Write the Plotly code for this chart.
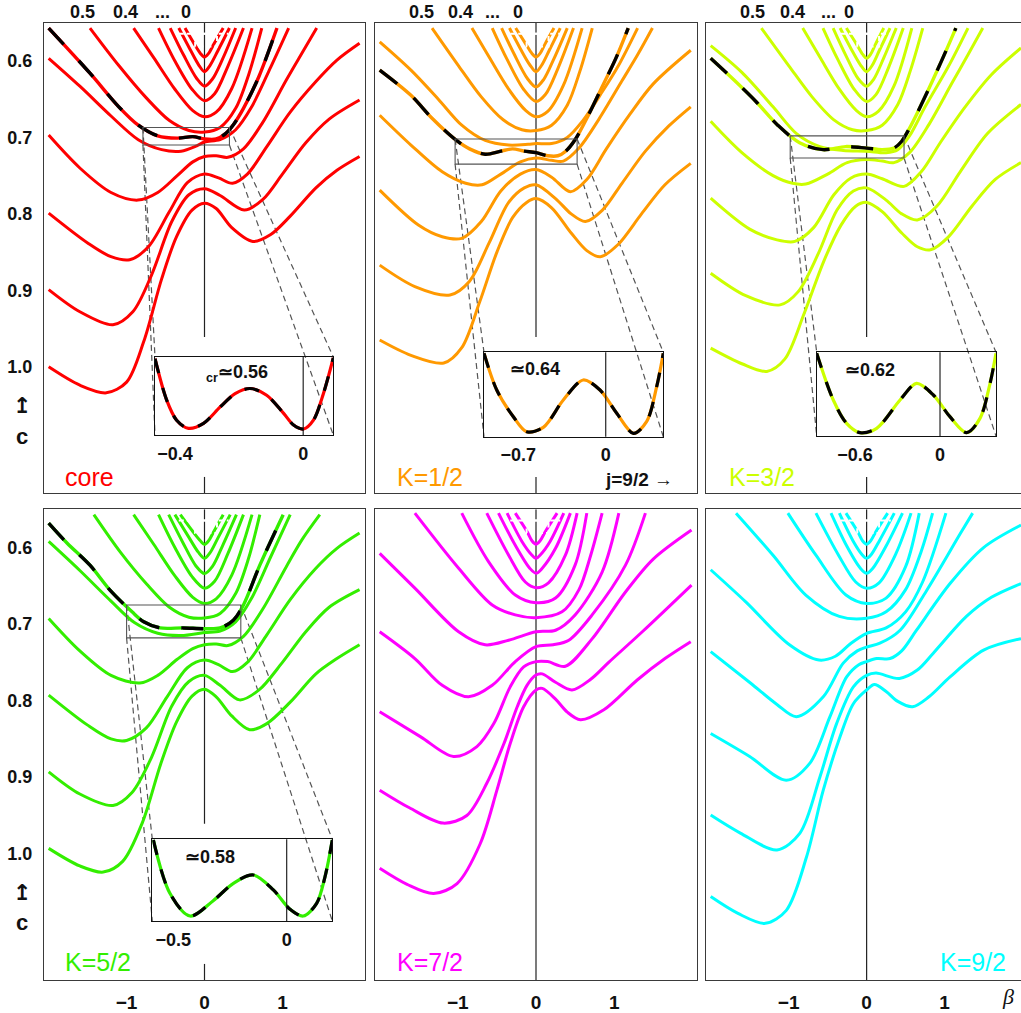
import plotly.graph_objects as go

W, H = 1021, 1013

# ---------------------------------------------------------------------------
# Curve samples (beta, c).  Each panel: six upper "U" curves, then five curves
# that enter from the left edge (shallowest first).  The critical curve is drawn
# dashed (black over colour) and zoomed in an inset.
# ---------------------------------------------------------------------------
core_curves = [
    [(-0.25, 0.557), (-0.13, 0.578), (-0.05, 0.5905), (0, 0.595), (0.05, 0.5905), (0.12, 0.578), (0.24, 0.557)],
    [(-0.33, 0.557), (-0.19, 0.584), (-0.07, 0.606), (0, 0.614), (0.07, 0.606), (0.17, 0.587), (0.32, 0.557)],
    [(-0.44, 0.557), (-0.27, 0.592), (-0.10, 0.623), (0, 0.633), (0.10, 0.624), (0.23, 0.598), (0.40, 0.557)],
    [(-0.59, 0.557), (-0.38, 0.600), (-0.16, 0.637), (0, 0.652), (0.13, 0.643), (0.30, 0.607), (0.50, 0.557)],
    [(-0.91, 0.557), (-0.65, 0.596), (-0.38, 0.637), (-0.15, 0.665), (0, 0.673), (0.15, 0.667), (0.35, 0.636), (0.61, 0.557)],
    [(-1.47, 0.557), (-1.10, 0.606), (-0.75, 0.648), (-0.45, 0.678), (-0.20, 0.691), (0, 0.693), (0.20, 0.687), (0.40, 0.662), (0.57, 0.617), (0.735, 0.557)],
    [(-2.0, 0.5965), (-1.6, 0.633), (-1.2, 0.672), (-0.85, 0.703), (-0.55, 0.716), (-0.30, 0.718), (-0.10, 0.711), (0, 0.706), (0.20, 0.703), (0.40, 0.690), (0.60, 0.661), (0.85, 0.608), (1.08, 0.557)],
    [(-2.0, 0.697), (-1.6, 0.740), (-1.2, 0.772), (-0.855, 0.782), (-0.60, 0.772), (-0.35, 0.750), (-0.15, 0.732), (0, 0.725), (0.15, 0.724), (0.30, 0.726), (0.50, 0.715), (0.75, 0.680), (1.05, 0.625), (1.25, 0.590), (1.44, 0.557)],
    [(-2.0, 0.799), (-1.5, 0.838), (-1.2, 0.856), (-0.96, 0.860), (-0.72, 0.843), (-0.45, 0.797), (-0.22, 0.759), (0, 0.748), (0.18, 0.753), (0.36, 0.760), (0.55, 0.748), (0.80, 0.712), (1.10, 0.667), (1.43, 0.627), (1.70, 0.599), (1.99, 0.577)],
    [(-2.0, 0.899), (-1.6, 0.928), (-1.175, 0.945), (-0.92, 0.928), (-0.68, 0.880), (-0.42, 0.810), (-0.20, 0.775), (0, 0.767), (0.20, 0.776), (0.51, 0.795), (0.75, 0.781), (1.0, 0.748), (1.3, 0.707), (1.6, 0.676), (1.99, 0.651)],
    [(-2.0, 1.000), (-1.6, 1.024), (-1.26, 1.034), (-1.0, 1.020), (-0.78, 0.967), (-0.55, 0.885), (-0.36, 0.830), (-0.16, 0.795), (0, 0.786), (0.15, 0.793), (0.35, 0.818), (0.62, 0.836), (0.85, 0.827), (1.1, 0.803), (1.43, 0.766), (1.7, 0.743), (1.99, 0.725)],
]
core_critical = [(-2.0, 0.557), (-1.47, 0.616), (-1.1, 0.660), (-0.85, 0.684), (-0.6, 0.698), (-0.35, 0.701), (-0.15, 0.699), (0, 0.702), (0.15, 0.702), (0.27, 0.695), (0.38, 0.682), (0.5, 0.662), (0.7, 0.620), (0.93, 0.557)]
core_inset = [(-0.4625, 0.979), (-0.426, 0.447), (-0.395, 0.19), (-0.358, 0.085), (-0.311, 0.15), (-0.259, 0.36), (-0.2125, 0.53), (-0.166, 0.596), (-0.114, 0.51), (-0.061, 0.277), (-0.030, 0.128), (0.001, 0.077), (0.032, 0.19), (0.063, 0.53), (0.094, 0.99)]

k12_curves = [
    [(-0.26, 0.557), (-0.13, 0.578), (-0.05, 0.5905), (0, 0.595), (0.05, 0.5905), (0.12, 0.577), (0.23, 0.557)],
    [(-0.34, 0.557), (-0.20, 0.584), (-0.08, 0.605), (0, 0.614), (0.07, 0.606), (0.17, 0.586), (0.31, 0.557)],
    [(-0.44, 0.557), (-0.28, 0.591), (-0.11, 0.623), (0, 0.634), (0.10, 0.624), (0.23, 0.597), (0.40, 0.557)],
    [(-0.56, 0.557), (-0.37, 0.598), (-0.16, 0.637), (0, 0.653), (0.12, 0.644), (0.28, 0.610), (0.48, 0.557)],
    [(-0.82, 0.557), (-0.60, 0.595), (-0.35, 0.637), (-0.13, 0.665), (0, 0.673), (0.15, 0.666), (0.35, 0.632), (0.59, 0.557)],
    [(-1.33, 0.557), (-1.0, 0.605), (-0.70, 0.647), (-0.42, 0.677), (-0.18, 0.690), (0, 0.691), (0.20, 0.684), (0.40, 0.658), (0.56, 0.614), (0.72, 0.557)],
    [(-2.0, 0.575), (-1.6, 0.612), (-1.25, 0.650), (-0.95, 0.684), (-0.65, 0.704), (-0.35, 0.710), (-0.10, 0.709), (0, 0.708), (0.20, 0.708), (0.40, 0.700), (0.60, 0.678), (0.85, 0.640), (1.05, 0.607), (1.30, 0.557)],
    [(-2.0, 0.671), (-1.6, 0.710), (-1.2, 0.745), (-0.9, 0.760), (-0.69, 0.762), (-0.45, 0.748), (-0.20, 0.732), (0, 0.727), (0.20, 0.730), (0.35, 0.731), (0.55, 0.714), (0.80, 0.677), (1.10, 0.626), (1.30, 0.592), (1.49, 0.557)],
    [(-2.0, 0.769), (-1.5, 0.815), (-1.2, 0.830), (-0.95, 0.832), (-0.70, 0.810), (-0.45, 0.770), (-0.20, 0.748), (0, 0.742), (0.20, 0.752), (0.44, 0.771), (0.65, 0.755), (0.90, 0.715), (1.2, 0.670), (1.5, 0.630), (1.98, 0.586)],
    [(-2.0, 0.867), (-1.55, 0.895), (-1.10, 0.906), (-0.85, 0.888), (-0.60, 0.838), (-0.35, 0.785), (-0.15, 0.766), (0, 0.762), (0.25, 0.780), (0.45, 0.800), (0.632, 0.810), (0.85, 0.795), (1.1, 0.760), (1.4, 0.718), (1.7, 0.685), (1.98, 0.660)],
    [(-2.0, 0.965), (-1.6, 0.985), (-1.18, 0.995), (-0.95, 0.975), (-0.72, 0.915), (-0.50, 0.850), (-0.30, 0.805), (-0.12, 0.785), (0, 0.780), (0.20, 0.792), (0.45, 0.825), (0.65, 0.848), (0.825, 0.856), (1.05, 0.840), (1.35, 0.800), (1.65, 0.762), (1.98, 0.734)],
]
k12_critical = [(-2.0, 0.612), (-1.6, 0.645), (-1.33, 0.675), (-1.03, 0.703), (-0.85, 0.715), (-0.65, 0.722), (-0.45, 0.718), (-0.30, 0.715), (-0.15, 0.718), (0, 0.720), (0.15, 0.724), (0.28, 0.724), (0.38, 0.718), (0.50, 0.703), (0.675, 0.670), (0.85, 0.633), (1.02, 0.597), (1.18, 0.557)]
k12_inset = [(-0.975, 0.988), (-0.873, 0.553), (-0.740, 0.237), (-0.633, 0.059), (-0.500, 0.111), (-0.340, 0.435), (-0.180, 0.672), (-0.046, 0.553), (0.088, 0.277), (0.222, 0.040), (0.327, 0.178), (0.408, 0.593), (0.461, 0.988)]

k32_curves = [
    [(-0.26, 0.557), (-0.13, 0.578), (-0.05, 0.5915), (0, 0.5965), (0.05, 0.5915), (0.11, 0.579), (0.22, 0.557)],
    [(-0.34, 0.557), (-0.20, 0.584), (-0.08, 0.605), (0, 0.614), (0.07, 0.606), (0.16, 0.587), (0.30, 0.557)],
    [(-0.43, 0.557), (-0.27, 0.592), (-0.11, 0.623), (0, 0.633), (0.09, 0.624), (0.22, 0.596), (0.38, 0.557)],
    [(-0.56, 0.557), (-0.37, 0.598), (-0.16, 0.637), (0, 0.653), (0.12, 0.644), (0.28, 0.609), (0.47, 0.557)],
    [(-0.82, 0.557), (-0.60, 0.595), (-0.35, 0.637), (-0.13, 0.665), (0, 0.673), (0.15, 0.666), (0.35, 0.633), (0.58, 0.557)],
    [(-1.35, 0.557), (-1.0, 0.606), (-0.70, 0.647), (-0.42, 0.677), (-0.18, 0.690), (0, 0.691), (0.20, 0.684), (0.40, 0.657), (0.56, 0.613), (0.72, 0.557)],
    [(-2.0, 0.580), (-1.6, 0.615), (-1.2, 0.660), (-0.9, 0.695), (-0.6, 0.712), (-0.3, 0.717), (0, 0.718), (0.25, 0.720), (0.40, 0.716), (0.55, 0.698), (0.75, 0.660), (1.05, 0.607), (1.30, 0.557)],
    [(-2.0, 0.679), (-1.6, 0.720), (-1.2, 0.750), (-0.95, 0.760), (-0.78, 0.761), (-0.5, 0.748), (-0.25, 0.733), (0, 0.729), (0.20, 0.731), (0.35, 0.733), (0.55, 0.720), (0.80, 0.683), (1.10, 0.628), (1.30, 0.592), (1.49, 0.557)],
    [(-2.0, 0.7795), (-1.5, 0.820), (-1.15, 0.834), (-0.92, 0.836), (-0.68, 0.818), (-0.42, 0.775), (-0.20, 0.753), (0, 0.748), (0.20, 0.754), (0.48, 0.764), (0.70, 0.745), (0.95, 0.706), (1.25, 0.662), (1.6, 0.618), (1.98, 0.583)],
    [(-2.0, 0.8776), (-1.55, 0.907), (-1.11, 0.919), (-0.88, 0.902), (-0.62, 0.852), (-0.38, 0.795), (-0.17, 0.770), (0, 0.766), (0.25, 0.782), (0.45, 0.800), (0.65, 0.808), (0.90, 0.790), (1.2, 0.745), (1.55, 0.695), (1.98, 0.657)],
    [(-2.0, 0.9756), (-1.6, 0.996), (-1.28, 1.006), (-1.05, 0.990), (-0.80, 0.930), (-0.55, 0.862), (-0.33, 0.815), (-0.14, 0.790), (0, 0.785), (0.20, 0.797), (0.45, 0.825), (0.65, 0.843), (0.82, 0.847), (1.05, 0.830), (1.35, 0.790), (1.65, 0.755), (1.98, 0.733)],
]
k32_critical = [(-2.0, 0.5965), (-1.7, 0.625), (-1.42, 0.653), (-1.14, 0.684), (-0.86, 0.707), (-0.56, 0.716), (-0.27, 0.712), (0, 0.714), (0.20, 0.716), (0.35, 0.714), (0.45, 0.705), (0.55, 0.688), (0.65, 0.668), (0.93, 0.607), (1.145, 0.557)]
k32_inset = [(-0.870, 0.988), (-0.753, 0.430), (-0.659, 0.151), (-0.565, 0.040), (-0.447, 0.092), (-0.282, 0.430), (-0.165, 0.629), (-0.047, 0.490), (0.070, 0.231), (0.188, 0.040), (0.282, 0.211), (0.353, 0.629), (0.395, 0.988)]

k52_curves = [
    [(-0.31, 0.557), (-0.15, 0.579), (-0.05, 0.5915), (0, 0.596), (0.05, 0.5915), (0.12, 0.579), (0.24, 0.557)],
    [(-0.38, 0.557), (-0.21, 0.585), (-0.08, 0.606), (0, 0.614), (0.07, 0.607), (0.17, 0.588), (0.33, 0.557)],
    [(-0.46, 0.557), (-0.28, 0.593), (-0.11, 0.624), (0, 0.634), (0.10, 0.625), (0.23, 0.598), (0.41, 0.557)],
    [(-0.59, 0.557), (-0.38, 0.600), (-0.16, 0.638), (0, 0.653), (0.13, 0.644), (0.30, 0.608), (0.50, 0.557)],
    [(-0.91, 0.557), (-0.65, 0.596), (-0.38, 0.637), (-0.15, 0.665), (0, 0.673), (0.15, 0.667), (0.35, 0.636), (0.61, 0.557)],
    [(-1.42, 0.557), (-1.08, 0.606), (-0.74, 0.648), (-0.45, 0.678), (-0.20, 0.691), (0, 0.692), (0.20, 0.686), (0.40, 0.660), (0.56, 0.616), (0.71, 0.557)],
    [(-2.0, 0.592), (-1.6, 0.630), (-1.2, 0.670), (-0.9, 0.698), (-0.6, 0.712), (-0.3, 0.715), (0, 0.711), (0.20, 0.709), (0.40, 0.697), (0.60, 0.667), (0.85, 0.612), (1.10, 0.557)],
    [(-2.0, 0.6926), (-1.6, 0.735), (-1.2, 0.767), (-0.83, 0.777), (-0.6, 0.767), (-0.35, 0.746), (-0.15, 0.732), (0, 0.727), (0.15, 0.726), (0.30, 0.728), (0.50, 0.716), (0.75, 0.680), (1.05, 0.625), (1.25, 0.590), (1.48, 0.557)],
    [(-2.0, 0.7927), (-1.5, 0.832), (-1.2, 0.850), (-1.0, 0.852), (-0.75, 0.836), (-0.48, 0.795), (-0.22, 0.757), (0, 0.747), (0.18, 0.753), (0.36, 0.762), (0.55, 0.750), (0.80, 0.714), (1.10, 0.668), (1.43, 0.627), (1.70, 0.601), (1.99, 0.581)],
    [(-2.0, 0.893), (-1.6, 0.922), (-1.175, 0.937), (-0.93, 0.920), (-0.68, 0.874), (-0.42, 0.807), (-0.20, 0.775), (0, 0.767), (0.20, 0.780), (0.45, 0.799), (0.70, 0.786), (1.0, 0.750), (1.3, 0.710), (1.6, 0.678), (1.99, 0.655)],
    [(-2.0, 0.993), (-1.6, 1.016), (-1.30, 1.024), (-1.05, 1.010), (-0.80, 0.960), (-0.56, 0.882), (-0.36, 0.828), (-0.16, 0.794), (0, 0.785), (0.15, 0.795), (0.35, 0.820), (0.58, 0.838), (0.80, 0.830), (1.1, 0.802), (1.43, 0.765), (1.7, 0.745), (1.99, 0.727)],
]
k52_critical = [(-2.0, 0.568), (-1.765, 0.594), (-1.47, 0.623), (-1.21, 0.656), (-0.93, 0.684), (-0.78, 0.697), (-0.57, 0.705), (-0.27, 0.705), (0, 0.706), (0.20, 0.705), (0.37, 0.695), (0.50, 0.675), (0.71, 0.623), (1.01, 0.557)]
k52_inset = [(-0.588, 0.992), (-0.515, 0.339), (-0.426, 0.061), (-0.324, 0.249), (-0.235, 0.461), (-0.147, 0.563), (-0.059, 0.380), (0.0146, 0.143), (0.073, 0.061), (0.132, 0.216), (0.169, 0.543), (0.201, 0.992)]

k72_curves = [
    [(-0.265, 0.555), (-0.115, 0.579), (-0.05, 0.5915), (0, 0.5957), (0.05, 0.5915), (0.12, 0.579), (0.27, 0.555)],
    [(-0.37, 0.555), (-0.18, 0.592), (-0.06, 0.609), (0, 0.614), (0.06, 0.609), (0.18, 0.592), (0.355, 0.555)],
    [(-0.48, 0.555), (-0.265, 0.597), (-0.08, 0.627), (0, 0.6336), (0.08, 0.627), (0.25, 0.601), (0.44, 0.555)],
    [(-0.63, 0.555), (-0.35, 0.610), (-0.137, 0.645), (0, 0.6524), (0.16, 0.646), (0.376, 0.610), (0.526, 0.555)],
    [(-0.95, 0.555), (-0.61, 0.618), (-0.265, 0.662), (0, 0.672), (0.25, 0.666), (0.50, 0.623), (0.65, 0.555)],
    [(-1.55, 0.555), (-0.99, 0.627), (-0.56, 0.675), (-0.265, 0.688), (0, 0.6916), (0.333, 0.684), (0.55, 0.655), (0.70, 0.610), (0.846, 0.555)],
    [(-2.0, 0.6075), (-1.55, 0.653), (-0.99, 0.710), (-0.65, 0.727), (-0.35, 0.721), (0, 0.710), (0.25, 0.708), (0.50, 0.688), (0.846, 0.632), (1.06, 0.555)],
    [(-2.0, 0.710), (-1.55, 0.745), (-1.2, 0.780), (-0.863, 0.795), (-0.56, 0.780), (-0.265, 0.749), (0, 0.7295), (0.22, 0.727), (0.42, 0.721), (0.718, 0.688), (1.145, 0.623), (1.40, 0.555)],
    [(-2.0, 0.8145), (-1.48, 0.847), (-1.055, 0.873), (-0.756, 0.860), (-0.54, 0.830), (-0.33, 0.782), (-0.158, 0.756), (0, 0.749), (0.15, 0.749), (0.376, 0.755), (0.72, 0.719), (1.145, 0.658), (1.5, 0.615), (1.99, 0.577)],
    [(-2.0, 0.917), (-1.62, 0.940), (-1.19, 0.960), (-0.885, 0.950), (-0.63, 0.908), (-0.41, 0.856), (-0.24, 0.808), (-0.115, 0.780), (0, 0.7665), (0.08, 0.765), (0.25, 0.776), (0.46, 0.786), (0.70, 0.772), (0.93, 0.750), (1.36, 0.710), (1.99, 0.649)],
    [(-2.0, 1.019), (-1.65, 1.040), (-1.31, 1.052), (-1.01, 1.039), (-0.714, 0.987), (-0.50, 0.917), (-0.33, 0.856), (-0.158, 0.808), (0, 0.786), (0.08, 0.784), (0.25, 0.798), (0.40, 0.815), (0.568, 0.825), (0.868, 0.812), (1.295, 0.773), (1.65, 0.745), (1.98, 0.723)],
]

k92_curves = [
    [(-0.265, 0.555), (-0.11, 0.580), (-0.05, 0.5915), (0, 0.5957), (0.05, 0.5915), (0.12, 0.579), (0.27, 0.555)],
    [(-0.35, 0.555), (-0.17, 0.592), (-0.06, 0.609), (0, 0.614), (0.06, 0.609), (0.17, 0.590), (0.355, 0.555)],
    [(-0.457, 0.555), (-0.26, 0.597), (-0.08, 0.627), (0, 0.6336), (0.08, 0.627), (0.25, 0.598), (0.46, 0.555)],
    [(-0.65, 0.555), (-0.36, 0.610), (-0.14, 0.645), (0, 0.653), (0.16, 0.646), (0.38, 0.607), (0.57, 0.555)],
    [(-1.01, 0.555), (-0.65, 0.610), (-0.265, 0.662), (0, 0.673), (0.25, 0.666), (0.50, 0.625), (0.675, 0.555)],
    [(-1.675, 0.555), (-1.2, 0.610), (-0.78, 0.662), (-0.35, 0.690), (0, 0.6925), (0.25, 0.684), (0.50, 0.655), (0.70, 0.605), (0.846, 0.555)],
    [(-2.0, 0.629), (-1.55, 0.671), (-0.99, 0.727), (-0.61, 0.747), (-0.40, 0.742), (-0.20, 0.725), (0, 0.712), (0.25, 0.705), (0.50, 0.684), (0.718, 0.645), (1.017, 0.555)],
    [(-2.0, 0.736), (-1.49, 0.777), (-1.15, 0.805), (-0.90, 0.821), (-0.556, 0.795), (-0.30, 0.751), (-0.12, 0.735), (0, 0.730), (0.17, 0.725), (0.43, 0.708), (0.77, 0.656), (1.2, 0.582), (1.36, 0.555)],
    [(-2.0, 0.843), (-1.5, 0.873), (-1.03, 0.904), (-0.73, 0.882), (-0.47, 0.821), (-0.256, 0.769), (-0.10, 0.753), (0, 0.749), (0.13, 0.745), (0.30, 0.745), (0.45, 0.735), (0.64, 0.708), (1.07, 0.647), (1.5, 0.600), (1.98, 0.5706)],
    [(-2.0, 0.9495), (-1.62, 0.973), (-1.15, 0.995), (-0.855, 0.973), (-0.60, 0.900), (-0.385, 0.830), (-0.17, 0.782), (0, 0.767), (0.12, 0.764), (0.42, 0.771), (0.65, 0.760), (0.855, 0.738), (1.28, 0.690), (1.6, 0.665), (1.98, 0.647)],
    [(-2.0, 1.056), (-1.65, 1.078), (-1.30, 1.091), (-1.03, 1.074), (-0.77, 1.004), (-0.556, 0.917), (-0.34, 0.847), (-0.17, 0.804), (0, 0.786), (0.10, 0.779), (0.25, 0.788), (0.40, 0.801), (0.59, 0.808), (0.80, 0.795), (1.07, 0.769), (1.5, 0.734), (1.98, 0.719)],
]

# tick values / labels
beta_ticks = [-1, 0, 1]
c_ticks = [0.6, 0.7, 0.8, 0.9, 1.0]
c_tick_text = ["0.6", "0.7", "0.8", "0.9", "1.0"]
top_labels = ["0.5", "0.4", "...", "0"]

# ---------------------------------------------------------------------------
# Page geometry (pixels) and axis ranges
# ---------------------------------------------------------------------------
COL_PX = [(44, 365), (375, 697), (706, 1021)]
ROW_PX = [(22.7, 493), (509.3, 980)]
X_RANGE = [(-2.06, 2.06), (-2.06, 2.06), (-2.06, 1.98)]
C_TOP, C_BOT = 0.550, 1.165
FONT = "Liberation Sans"
FRAME = "#3a3a3a"
INK = "#111"


def fx(x):
    return x / W


def fy(y):
    return 1 - y / H


def to_beta(col, x):
    a, b = COL_PX[col]
    r0, r1 = X_RANGE[col]
    return r0 + (x - a) / (b - a) * (r1 - r0)


def to_c(row, y):
    t, b = ROW_PX[row]
    return C_TOP + (y - t) / (b - t) * (C_BOT - C_TOP)


def label(x, y, text, size, color=INK, family=FONT, xanchor="center"):
    return dict(x=fx(x), y=fy(y), xref="paper", yref="paper", showarrow=False,
                xanchor=xanchor, yanchor="middle", text=text,
                font=dict(family=family, size=size, color=color))


panels = [
    dict(label="core", color="#ff0000", curves=core_curves, critical=core_critical,
         box=(-0.79, 0.32, 0.687, 0.710), inset=core_inset, inset_px=(155, 333.3, 357, 435),
         inset_range=(-0.4625, 0.094), inset_ticks=([-0.4, 0], ["−0.4", "0"]),
         inset_title="<sub>cr</sub>≃0.56", title_px=(237, 374), label_px=(63, 477, "left")),
    dict(label="K=1/2", color="#ff9900", curves=k12_curves, critical=k12_critical,
         box=(-1.035, 0.526, 0.702, 0.735), inset=k12_inset, inset_px=(484, 663.3, 352.3, 436.7),
         inset_range=(-0.975, 0.461), inset_ticks=([-0.7, 0], ["−0.7", "0"]),
         inset_title="≃0.64", title_px=(535, 369), label_px=(395, 477, "left")),
    dict(label="K=3/2", color="#ccff00", curves=k32_curves, critical=k32_critical,
         box=(-0.98, 0.48, 0.698, 0.727), inset=k32_inset, inset_px=(816.7, 996, 352.3, 436),
         inset_range=(-0.870, 0.395), inset_ticks=([-0.6, 0], ["−0.6", "0"]),
         inset_title="≃0.62", title_px=(870, 370), label_px=(727, 477, "left")),
    dict(label="K=5/2", color="#33ee00", curves=k52_curves, critical=k52_critical,
         box=(-1.0, 0.466, 0.675, 0.718), inset=k52_inset, inset_px=(152.3, 332.3, 839.3, 921),
         inset_range=(-0.5926, 0.201), inset_ticks=([-0.5, 0], ["−0.5", "0"]),
         inset_title="≃0.58", title_px=(210, 857), label_px=(63, 962, "left")),
    dict(label="K=7/2", color="#ff00ff", curves=k72_curves, critical=None, label_px=(395, 962, "left")),
    dict(label="K=9/2", color="#00ffff", curves=k92_curves, critical=None, label_px=(1008, 962, "right")),
]

fig = go.Figure()
layout = dict(width=W, height=H, margin=dict(l=0, r=0, t=0, b=0),
              paper_bgcolor="white", plot_bgcolor="rgba(0,0,0,0)",
              showlegend=False, hovermode=False)
shapes, annotations = [], []


def axis_names(n):
    return ("x" if n == 1 else f"x{n}", "y" if n == 1 else f"y{n}",
            "xaxis" if n == 1 else f"xaxis{n}", "yaxis" if n == 1 else f"yaxis{n}")


def add_curve(pts, color, xa, ya, width=3.0, dash=None):
    b, c = zip(*pts)
    fig.add_trace(go.Scatter(x=b, y=c, mode="lines", hoverinfo="skip",
                             line=dict(color=color, width=width, shape="spline",
                                       smoothing=0.9, dash=dash),
                             xaxis=xa, yaxis=ya))


inset_id = 7
for n, p in enumerate(panels, start=1):
    col, row = (n - 1) % 3, (n - 1) // 3
    xa, ya, xk, yk = axis_names(n)
    x0, x1 = COL_PX[col]
    yt, yb = ROW_PX[row]
    layout[xk] = dict(domain=[fx(x0), min(fx(x1), 1.0)], range=list(X_RANGE[col]), anchor=ya,
                      showline=True, mirror=True, linecolor=FRAME, linewidth=1.3,
                      showgrid=False, zeroline=False, ticks="",
                      tickvals=beta_ticks, showticklabels=(row == 1), ticklabelstandoff=5,
                      tickfont=dict(family=FONT, size=19, color=INK, weight="bold"))
    layout[yk] = dict(domain=[fy(yb), fy(yt)], range=[C_BOT, C_TOP], anchor=xa,
                      showline=True, mirror=True, linecolor=FRAME, linewidth=1.3,
                      showgrid=False, zeroline=False, ticks="",
                      tickvals=c_ticks, ticktext=c_tick_text, showticklabels=(col == 0),
                      ticklabelstandoff=7,
                      tickfont=dict(family=FONT, size=18, color=INK, weight="bold"))

    # beta = 0 reference line (interrupted where the inset sits)
    if p["critical"] is not None:
        for ya0, ya1 in [(C_TOP, 0.961), (1.144, C_BOT)]:
            shapes.append(dict(type="line", xref=xa, yref=ya, x0=0, x1=0, y0=ya0, y1=ya1,
                               line=dict(color="#222", width=1.2), layer="below"))
    else:
        shapes.append(dict(type="line", xref=xa, yref=ya, x0=0, x1=0, y0=C_TOP, y1=C_BOT,
                           line=dict(color="#222", width=1.2), layer="below"))

    for pts in p["curves"]:
        add_curve(pts, p["color"], xa, ya)

    # short white dashes crossing the tops of the inner curves
    shapes.append(dict(type="line", xref=xa, yref=ya, x0=-0.33, x1=0.31, y0=0.5645, y1=0.5645,
                       line=dict(color="white", width=2, dash="5px,3px"), layer="above"))
    shapes.append(dict(type="rect", xref=xa, yref=ya, x0=-0.12, x1=0.16, y0=0.5645, y1=0.581,
                       line=dict(color="white", width=2, dash="5px,3px"), layer="above"))

    if p["critical"] is not None:
        add_curve(p["critical"], p["color"], xa, ya, width=3.4)
        add_curve(p["critical"], "black", xa, ya, width=3.4, dash="22px,22px")

        b0, b1, c0, c1 = p["box"]
        shapes.append(dict(type="rect", xref=xa, yref=ya, x0=b0, x1=b1, y0=c0, y1=c1,
                           line=dict(color="#555", width=1.1), layer="above"))
        ix0, ix1, iy0, iy1 = p["inset_px"]
        ib0, ib1 = to_beta(col, ix0), to_beta(col, ix1)
        ic0, ic1 = to_c(row, iy0), to_c(row, iy1)
        for (sx, sy), (ex, ey) in [((b0, c0), (ib0, ic0)), ((b0, c1), (ib0, ic1)),
                                   ((b1, c0), (ib1, ic0)), ((b1, c1), (ib1, ic1))]:
            shapes.append(dict(type="line", xref=xa, yref=ya, x0=sx, y0=sy, x1=ex, y1=ey,
                               line=dict(color="#555", width=1.2, dash="6px,4px"), layer="below"))

        # inset axes
        ixa, iya, ixk, iyk = axis_names(inset_id)
        layout[ixk] = dict(domain=[fx(ix0), fx(ix1)], range=list(p["inset_range"]), anchor=iya,
                           showline=True, mirror=True, linecolor=INK, linewidth=1.1,
                           showgrid=False, zeroline=False, ticks="",
                           tickvals=p["inset_ticks"][0], ticktext=p["inset_ticks"][1],
                           ticklabelstandoff=2,
                           tickfont=dict(family=FONT, size=18, color=INK, weight="bold"))
        layout[iyk] = dict(domain=[fy(iy1), fy(iy0)], range=[0, 1], anchor=ixa,
                           showline=True, mirror=True, linecolor=INK, linewidth=1.1,
                           showgrid=False, zeroline=False, ticks="", showticklabels=False)
        shapes.append(dict(type="line", xref=ixa, yref=f"{iya} domain", x0=0, x1=0, y0=0, y1=1,
                           line=dict(color=INK, width=1.1)))
        add_curve(p["inset"], p["color"], ixa, iya, width=3.2)
        add_curve(p["inset"], "black", ixa, iya, width=3.2, dash="15px,15px")
        tx, ty = p["title_px"]
        annotations.append(label(tx, ty, f"<b>{p['inset_title']}</b>", 18))
        inset_id += 1

    # panel label
    lx, ly, anchor = p["label_px"]
    annotations.append(label(lx, ly, p["label"], 25, color=p["color"], xanchor=anchor))

# parameter labels above the top row
TOP_LABEL_PX = [[82, 125, 162, 186], [421.7, 460.7, 492.7, 517.7], [752.7, 792.3, 828.3, 849]]
for xs in TOP_LABEL_PX:
    for x, t in zip(xs, top_labels):
        annotations.append(label(x, 12, f"<b>{t}</b>", 18))

# axis names
for dy in (0, 486.6):
    annotations.append(label(22, 406 + dy, "<b>↥</b>", 22, family="DejaVu Sans"))
    annotations.append(label(22, 436 + dy, "<b>c</b>", 22))
annotations.append(label(1008, 996, "<i>β</i>", 22, family="Liberation Serif"))
annotations.append(label(675, 479, "<b>j=9/2 →</b>", 19, xanchor="right"))

layout["shapes"] = shapes
layout["annotations"] = annotations
fig.update_layout(**layout)
fig.write_html("out.html")
